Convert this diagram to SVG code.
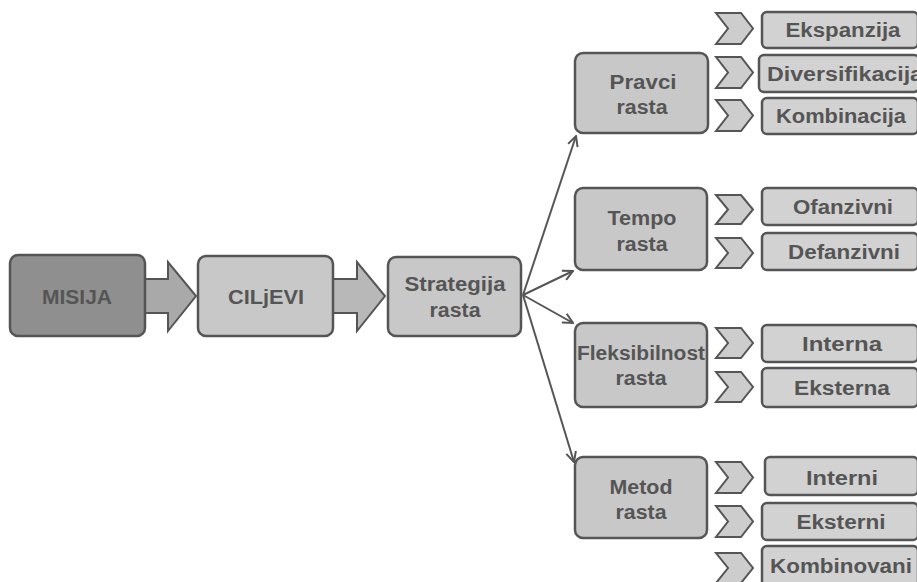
<svg xmlns="http://www.w3.org/2000/svg" width="917" height="582" viewBox="0 0 917 582">
<style>
.box{fill:#c8c8c8;stroke:#555;stroke-width:2.5}
.dark{fill:#8f8f8f;stroke:#555;stroke-width:2.5}
.leaf{fill:#d2d2d2;stroke:#555;stroke-width:2.5}
.chev{fill:#cdcdcd;stroke:#555;stroke-width:2;stroke-linejoin:miter}
.blk{stroke:#555;stroke-width:2;stroke-linejoin:miter}
.t{font-family:"Liberation Sans",Arial,sans-serif;font-weight:bold;font-size:20px;fill:#555;text-anchor:middle}
.conn{fill:none;stroke:#555;stroke-width:2}
</style>
<defs>
<marker id="open" viewBox="0 0 12 12" refX="11" refY="6" markerWidth="12" markerHeight="12" markerUnits="userSpaceOnUse" orient="auto">
<polyline points="1,1 11,6 1,11" fill="none" stroke="#555" stroke-width="2"/>
</marker>
</defs>
<rect width="917" height="582" fill="#fff"/>

<g id="connectors">
<polygon class="blk" fill="#a9a9a9" points="145,279 168,279 168,262 196,296 168,331 168,313 145,313"/>
<polygon class="blk" fill="#b8b8b8" points="333,279 357,279 357,262 385,296 357,331 357,313 333,313"/>
<line class="conn" x1="523" y1="295" x2="576" y2="136" marker-end="url(#open)"/>
<line class="conn" x1="523" y1="295" x2="573" y2="271" marker-end="url(#open)"/>
<line class="conn" x1="523" y1="295" x2="573" y2="323" marker-end="url(#open)"/>
<line class="conn" x1="523" y1="295" x2="574" y2="462" marker-end="url(#open)"/>
</g>

<g id="misija"><rect class="dark" x="10" y="255" width="135" height="81" rx="8"/><text class="t" x="77" y="304" fill="#5e5e5e" textLength="70" lengthAdjust="spacingAndGlyphs">MISIJA</text></g>
<g id="ciljevi"><rect class="box" x="198" y="256" width="135" height="80" rx="8"/><text class="t" x="266" y="304" textLength="76" lengthAdjust="spacingAndGlyphs">CILjEVI</text></g>
<g id="strategija"><rect class="box" x="388" y="257" width="133" height="79" rx="8"/><text class="t" x="455" y="291" textLength="101" lengthAdjust="spacingAndGlyphs">Strategija</text><text class="t" x="455" y="317" textLength="51" lengthAdjust="spacingAndGlyphs">rasta</text></g>

<g id="pravci"><rect class="box" x="575" y="53" width="133" height="80" rx="8"/><text class="t" x="643" y="89" textLength="67" lengthAdjust="spacingAndGlyphs">Pravci</text><text class="t" x="642" y="114" textLength="51" lengthAdjust="spacingAndGlyphs">rasta</text></g>
<g id="tempo"><rect class="box" x="575" y="188" width="132" height="82" rx="8"/><text class="t" x="642" y="225" textLength="69" lengthAdjust="spacingAndGlyphs">Tempo</text><text class="t" x="642" y="251" textLength="51" lengthAdjust="spacingAndGlyphs">rasta</text></g>
<g id="fleksibilnost"><rect class="box" x="575" y="323" width="132" height="84" rx="8"/><text class="t" x="641" y="360" textLength="128" lengthAdjust="spacingAndGlyphs">Fleksibilnost</text><text class="t" x="641" y="385" textLength="51" lengthAdjust="spacingAndGlyphs">rasta</text></g>
<g id="metod"><rect class="box" x="575" y="457" width="132" height="81" rx="8"/><text class="t" x="641" y="494" textLength="63" lengthAdjust="spacingAndGlyphs">Metod</text><text class="t" x="641" y="519" textLength="51" lengthAdjust="spacingAndGlyphs">rasta</text></g>

<g id="ekspanzija"><polygon class="chev" points="716,13 741,13 753,28.5 741,44 716,44 728,28.5"/><rect class="leaf" x="762" y="12" width="156" height="36" rx="5"/><text class="t" x="843" y="37" textLength="115" lengthAdjust="spacingAndGlyphs">Ekspanzija</text></g>
<g id="diversifikacija"><polygon class="chev" points="716,57 741,57 753,72.5 741,88 716,88 728,72.5"/><rect class="leaf" x="759" y="55" width="160" height="37" rx="5"/><text class="t" x="845" y="81" textLength="156" lengthAdjust="spacingAndGlyphs">Diversifikacija</text></g>
<g id="kombinacija"><polygon class="chev" points="716,100 741,100 753,115.5 741,131 716,131 728,115.5"/><rect class="leaf" x="762" y="98" width="156" height="36" rx="5"/><text class="t" x="841" y="123" textLength="130" lengthAdjust="spacingAndGlyphs">Kombinacija</text></g>
<g id="ofanzivni"><polygon class="chev" points="716,195 741,195 753,209.5 741,224 716,224 728,209.5"/><rect class="leaf" x="762" y="188" width="156" height="37" rx="5"/><text class="t" x="843" y="214" textLength="100" lengthAdjust="spacingAndGlyphs">Ofanzivni</text></g>
<g id="defanzivni"><polygon class="chev" points="716,238 741,238 753,253 741,268 716,268 728,253"/><rect class="leaf" x="762" y="233" width="156" height="37" rx="5"/><text class="t" x="844" y="259" textLength="112" lengthAdjust="spacingAndGlyphs">Defanzivni</text></g>
<g id="interna"><polygon class="chev" points="716,328 741,328 753,343 741,358 716,358 728,343"/><rect class="leaf" x="762" y="325" width="156" height="37" rx="5"/><text class="t" x="842" y="351" textLength="80" lengthAdjust="spacingAndGlyphs">Interna</text></g>
<g id="eksterna"><polygon class="chev" points="716,372 741,372 753,387 741,402 716,402 728,387"/><rect class="leaf" x="762" y="368" width="156" height="39" rx="5"/><text class="t" x="842" y="395" textLength="96" lengthAdjust="spacingAndGlyphs">Eksterna</text></g>
<g id="interni"><polygon class="chev" points="716,462 741,462 753,477.5 741,493 716,493 728,477.5"/><rect class="leaf" x="765" y="457" width="153" height="38" rx="5"/><text class="t" x="842" y="485" textLength="72" lengthAdjust="spacingAndGlyphs">Interni</text></g>
<g id="eksterni"><polygon class="chev" points="716,506 741,506 753,521.5 741,537 716,537 728,521.5"/><rect class="leaf" x="762" y="503" width="156" height="37" rx="5"/><text class="t" x="841" y="529" textLength="89" lengthAdjust="spacingAndGlyphs">Eksterni</text></g>
<g id="kombinovani"><polygon class="chev" points="716,553 741,553 753,568 741,583 716,583 728,568"/><rect class="leaf" x="762" y="546" width="156" height="44" rx="5"/><text class="t" x="841" y="573" textLength="142" lengthAdjust="spacingAndGlyphs">Kombinovani</text></g>
</svg>
